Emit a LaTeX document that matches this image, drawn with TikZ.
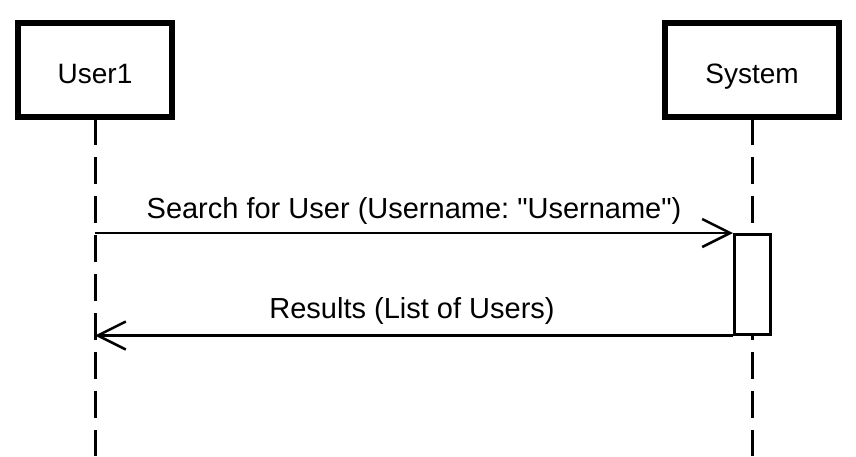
\documentclass[tikz,border=0pt]{standalone}
\usepackage{fontspec}
\setmainfont{Liberation Sans}[Ligatures=TeXOff]
\frenchspacing
\usetikzlibrary{arrows.meta}
\tikzset{>={Straight Barb[length=28pt, width=28pt, line width=2.5pt]}}
\tikzset{actor/.style={draw, line width=6pt, minimum height=94pt, text height=26pt, text depth=0pt},
	lifeline/.style={line width=3pt, dash pattern=on 25pt off 12pt on 27pt off 12pt on 27pt off 12pt on 27pt off 12pt on 27pt off 12pt on 27pt off 12pt on 27pt off 12pt on 27pt off 12pt on 27pt off 12pt},
	msg/.style={line width=2.5pt},
	label/.style={anchor=base, font=\fontsize{29}{35}\selectfont}}

\begin{document}
\begin{tikzpicture}[x=1pt, y=-1pt, font=\fontsize{28}{34}\selectfont]
	\useasboundingbox (0,0) rectangle (856,456);
	\node [actor, minimum width=154pt] (user) at (95,70) {User1};
	\node [actor, minimum width=174pt] (sys) at (752,70) {System};
	\coordinate (userend) at (95,456);
	\coordinate (sysend) at (752,456);
	\draw [lifeline] (user.south) -- (userend);
	\draw [lifeline] (sys.south) -- (sysend);
	\node [draw, fill=white, line width=2.5pt, minimum width=36pt, minimum height=100pt, anchor=north west, inner sep=0pt] (act) at (733,233) {};
	\draw [->, msg] (user |- act.north) -- (act.north west);
	\draw [->, msg] (act.south west) -- (user |- act.south);
	\node [label] (search) at (414,218) {Search for User (Username: "Username")};
	\node [label] (results) at (412,318) {Results (List of Users)};
\end{tikzpicture}
\end{document}
